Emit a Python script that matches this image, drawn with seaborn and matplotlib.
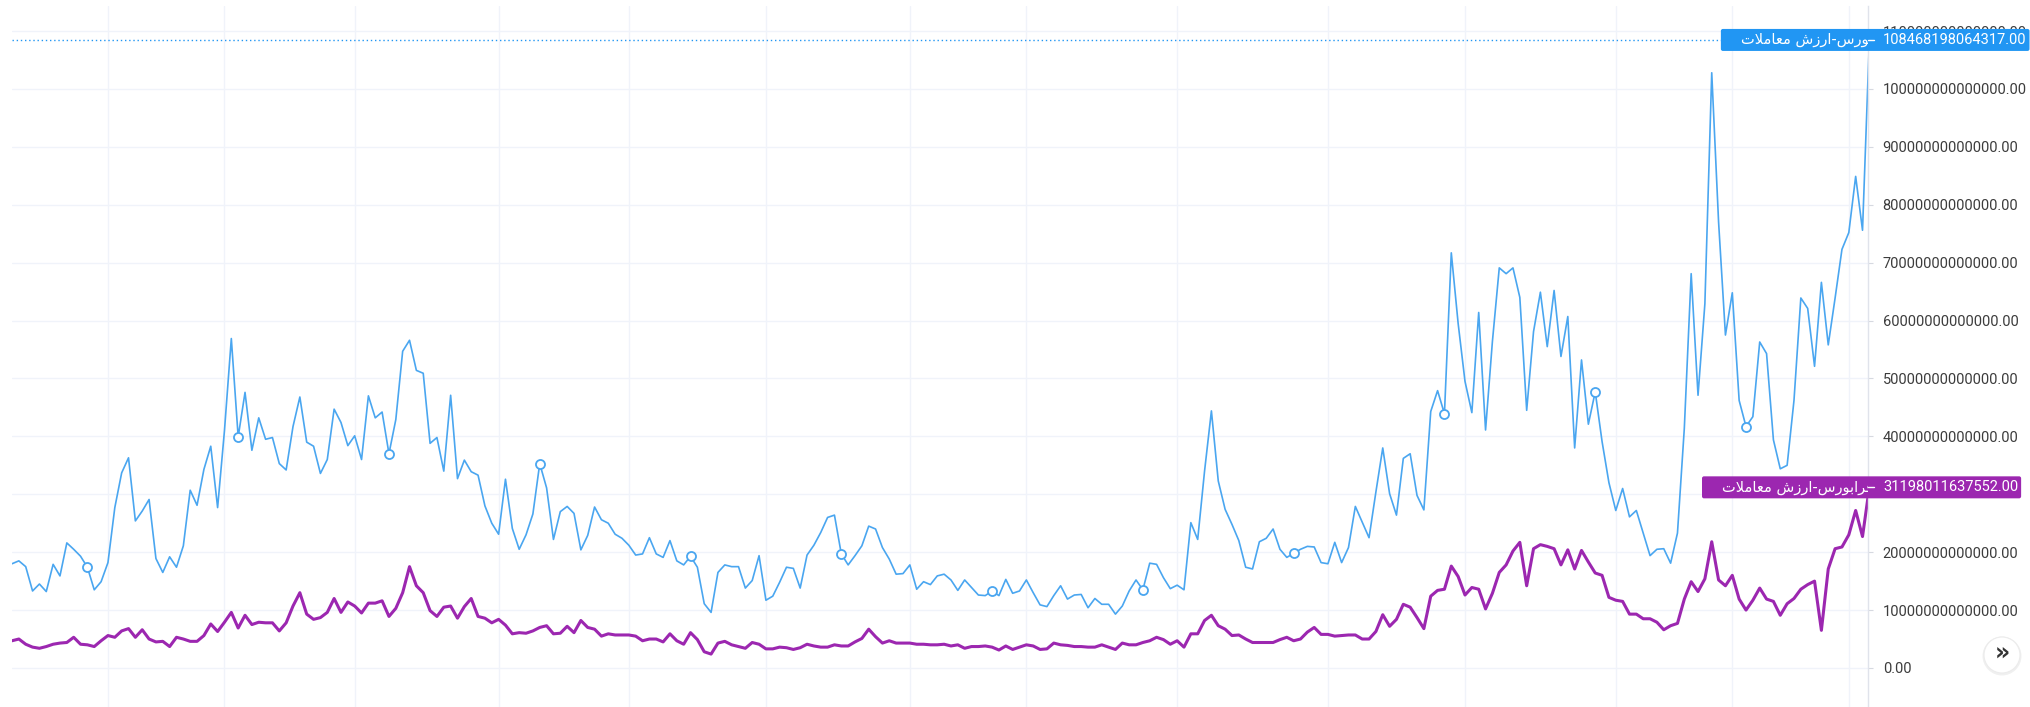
import numpy as np
import pandas as pd
import matplotlib
matplotlib.use('Agg')
import matplotlib.pyplot as plt
import seaborn as sns
from matplotlib.patches import FancyBboxPatch, Circle
from matplotlib.lines import Line2D
from matplotlib.transforms import IdentityTransform
from matplotlib.ticker import FuncFormatter

# daily trading value, in units of 1e13
bourse = [
    1.80, 1.85, 1.75, 1.33, 1.45, 1.32, 1.79, 1.59, 2.16, 2.05,
    1.93, 1.74, 1.35, 1.49, 1.82, 2.77, 3.37, 3.63, 2.54, 2.71,
    2.91, 1.89, 1.65, 1.92, 1.74, 2.11, 3.07, 2.81, 3.43, 3.83,
    2.77, 4.10, 5.69, 3.99, 4.76, 3.76, 4.32, 3.95, 3.98, 3.53,
    3.42, 4.17, 4.68, 3.90, 3.83, 3.36, 3.60, 4.47, 4.24, 3.84,
    4.01, 3.60, 4.70, 4.32, 4.42, 3.70, 4.29, 5.47, 5.66, 5.14,
    5.09, 3.88, 3.98, 3.40, 4.71, 3.27, 3.59, 3.39, 3.33, 2.80,
    2.50, 2.31, 3.26, 2.41, 2.05, 2.30, 2.66, 3.53, 3.11, 2.22,
    2.70, 2.79, 2.67, 2.04, 2.29, 2.78, 2.56, 2.50, 2.31, 2.24,
    2.12, 1.95, 1.97, 2.25, 1.97, 1.91, 2.20, 1.85, 1.78, 1.93,
    1.74, 1.11, 0.96, 1.65, 1.78, 1.75, 1.75, 1.38, 1.51, 1.94,
    1.17, 1.24, 1.48, 1.74, 1.72, 1.38, 1.95, 2.12, 2.34, 2.60,
    2.64, 1.97, 1.78, 1.94, 2.11, 2.45, 2.40, 2.08, 1.88, 1.62,
    1.63, 1.78, 1.36, 1.49, 1.44, 1.59, 1.62, 1.52, 1.34, 1.52,
    1.39, 1.26, 1.25, 1.33, 1.25, 1.53, 1.29, 1.33, 1.52, 1.30,
    1.09, 1.06, 1.25, 1.42, 1.19, 1.26, 1.27, 1.04, 1.20, 1.10,
    1.10, 0.93, 1.07, 1.33, 1.52, 1.35, 1.81, 1.79, 1.56, 1.37,
    1.43, 1.35, 2.51, 2.22, 3.40, 4.44, 3.23, 2.74, 2.48, 2.20,
    1.74, 1.71, 2.18, 2.24, 2.40, 2.05, 1.91, 1.98, 2.05, 2.10,
    2.09, 1.82, 1.80, 2.17, 1.82, 2.08, 2.79, 2.52, 2.25, 3.04,
    3.80, 3.01, 2.64, 3.62, 3.70, 2.98, 2.73, 4.43, 4.79, 4.39,
    7.17, 5.95, 4.95, 4.41, 6.14, 4.11, 5.64, 6.91, 6.81, 6.91,
    6.40, 4.45, 5.81, 6.49, 5.55, 6.52, 5.38, 6.07, 3.80, 5.32,
    4.21, 4.77, 3.91, 3.20, 2.72, 3.10, 2.61, 2.72, 2.33, 1.94,
    2.05, 2.06, 1.81, 2.33, 4.14, 6.81, 4.71, 6.29, 10.28, 7.70,
    5.75, 6.48, 4.62, 4.17, 4.34, 5.63, 5.43, 3.94, 3.44, 3.50,
    4.62, 6.39, 6.21, 5.21, 6.66, 5.58, 6.39, 7.23, 7.52, 8.49,
    7.56,
]
farabourse = [
    0.47, 0.50, 0.41, 0.36, 0.34, 0.37, 0.41, 0.43, 0.44, 0.53,
    0.41, 0.40, 0.37, 0.47, 0.56, 0.53, 0.64, 0.68, 0.53, 0.66,
    0.50, 0.45, 0.46, 0.37, 0.53, 0.50, 0.46, 0.46, 0.56, 0.76,
    0.63, 0.79, 0.96, 0.69, 0.91, 0.75, 0.79, 0.78, 0.78, 0.64,
    0.78, 1.07, 1.30, 0.93, 0.84, 0.87, 0.96, 1.20, 0.96, 1.14,
    1.07, 0.95, 1.12, 1.12, 1.16, 0.89, 1.03, 1.30, 1.75, 1.42,
    1.30, 0.99, 0.89, 1.05, 1.07, 0.86, 1.06, 1.20, 0.89, 0.86,
    0.78, 0.84, 0.74, 0.59, 0.61, 0.60, 0.64, 0.70, 0.73, 0.59,
    0.60, 0.72, 0.61, 0.82, 0.70, 0.67, 0.55, 0.59, 0.57, 0.57,
    0.57, 0.55, 0.47, 0.50, 0.50, 0.45, 0.59, 0.47, 0.41, 0.61,
    0.49, 0.28, 0.24, 0.43, 0.46, 0.40, 0.37, 0.34, 0.44, 0.41,
    0.33, 0.33, 0.36, 0.35, 0.32, 0.35, 0.41, 0.38, 0.36, 0.36,
    0.40, 0.38, 0.38, 0.45, 0.51, 0.67, 0.54, 0.43, 0.47, 0.43,
    0.43, 0.43, 0.41, 0.41, 0.40, 0.40, 0.41, 0.38, 0.40, 0.34,
    0.37, 0.37, 0.38, 0.36, 0.31, 0.38, 0.32, 0.36, 0.40, 0.38,
    0.32, 0.33, 0.43, 0.40, 0.39, 0.37, 0.37, 0.36, 0.36, 0.40,
    0.36, 0.32, 0.43, 0.40, 0.40, 0.44, 0.47, 0.53, 0.49, 0.41,
    0.47, 0.36, 0.59, 0.59, 0.82, 0.91, 0.73, 0.67, 0.56, 0.57,
    0.50, 0.44, 0.44, 0.44, 0.44, 0.49, 0.53, 0.47, 0.50, 0.62,
    0.70, 0.58, 0.58, 0.55, 0.56, 0.57, 0.57, 0.50, 0.50, 0.63,
    0.92, 0.72, 0.84, 1.10, 1.05, 0.87, 0.68, 1.24, 1.34, 1.36,
    1.76, 1.58, 1.26, 1.39, 1.36, 1.02, 1.29, 1.65, 1.78, 2.02,
    2.17, 1.42, 2.06, 2.13, 2.10, 2.06, 1.78, 2.04, 1.71, 2.03,
    1.83, 1.64, 1.60, 1.22, 1.17, 1.15, 0.93, 0.93, 0.85, 0.85,
    0.79, 0.66, 0.73, 0.77, 1.19, 1.49, 1.32, 1.54, 2.18, 1.52,
    1.42, 1.60, 1.19, 1.00, 1.17, 1.38, 1.19, 1.15, 0.91, 1.11,
    1.20, 1.36, 1.44, 1.50, 0.65, 1.71, 2.06, 2.09, 2.30, 2.72,
    2.27,
]
# last values shown on the price scale
bourse_last = 108468198064317
farabourse_last = 31198011637552

series_names = ['بورس-ارزش معاملات', 'فرابورس-ارزش معاملات']
month_starts = [14, 31, 50, 71, 90, 110, 131, 148, 170, 192, 212, 234, 251, 268]
y_ticks = [i * 10**13 for i in range(12)]
hidden_tick = 3 * 10**13  # sits under the purple last-value label

BLUE_LINE = '#4aa6f0'
BLUE = '#2196f3'
PURPLE = '#9c27b0'

# minimal Arabic shaping (matplotlib has no shaper / bidi)
FORMS = {
    'ب': '\uFE8F\uFE90\uFE91\uFE92', 'س': '\uFEB1\uFEB2\uFEB3\uFEB4',
    'ش': '\uFEB5\uFEB6\uFEB7\uFEB8', 'م': '\uFEE1\uFEE2\uFEE3\uFEE4',
    'ع': '\uFEC9\uFECA\uFECB\uFECC', 'ت': '\uFE95\uFE96\uFE97\uFE98',
    'ف': '\uFED1\uFED2\uFED3\uFED4', 'ل': '\uFEDD\uFEDE\uFEDF\uFEE0',
    'و': '\uFEED\uFEEE', 'ر': '\uFEAD\uFEAE', 'ز': '\uFEAF\uFEB0',
    'ا': '\uFE8D\uFE8E', '\uFEFB': '\uFEFB\uFEFC',
}


def shape(s):
    s = s.replace('لا', '\uFEFB')
    out = []
    for i, ch in enumerate(s):
        f = FORMS.get(ch)
        if f is None:
            out.append(ch)
            continue
        prev = s[i - 1] if i > 0 else ''
        nxt = s[i + 1] if i + 1 < len(s) else ''
        jp = len(FORMS.get(prev, '')) == 4
        jn = len(f) == 4 and nxt in FORMS
        out.append(f[(1 if jp else 0) + (2 if jn else 0)])
    return ''.join(out)[::-1]


df = pd.DataFrame({
    'day': np.arange(len(bourse) + 1),
    'bourse': np.append(np.array(bourse) * 1e13, bourse_last),
    'farabourse': np.append(np.array(farabourse) * 1e13, farabourse_last),
})

W, H = 2031, 707
sns.set_theme(style='white')
plt.rcParams['font.family'] = ['Roboto', 'DejaVu Sans']

fig = plt.figure(figsize=(W / 100, H / 100), dpi=100)
ax = fig.add_axes([12 / W, 0, 1856 / W, 701 / H])

sns.lineplot(data=df, x='day', y='bourse', ax=ax, color=BLUE_LINE, linewidth=1.2,
             errorbar=None, marker='o', markevery=slice(11, None, 22), markersize=6.5,
             markerfacecolor='white', markeredgecolor=BLUE_LINE, markeredgewidth=1.3)
sns.lineplot(data=df, x='day', y='farabourse', ax=ax, color=PURPLE, linewidth=2.2,
             errorbar=None)

ax.axhline(bourse_last, color=BLUE, lw=1, ls=(0, (1, 2)), zorder=1)

ax.set_xlim(0, 270.8)
ax.set_ylim(-0.674e13, 11.433e13)
ax.set_xticks(month_starts)
ax.set_yticks(y_ticks)
ax.grid(True, color='#f0f3fa', lw=1)
ax.set_xlabel('')
ax.set_ylabel('')
ax.tick_params(axis='x', length=0, labelbottom=False)
ax.yaxis.tick_right()
ax.tick_params(axis='y', length=3.6, width=0.8, color='#d6d9e0', pad=7,
               labelsize=10.5, labelcolor='#3c3c3c')
ax.yaxis.set_major_formatter(
    FuncFormatter(lambda v, p: '' if abs(v - hidden_tick) < 1 else f'{v:.2f}'))
for side in ['top', 'left', 'bottom']:
    ax.spines[side].set_visible(False)
ax.spines['right'].set_color('#e0e3eb')
ax.spines['right'].set_linewidth(1)

# last value labels on the price scale
renderer = fig.canvas.get_renderer()
x_edge = ax.bbox.x1
for name, last, color in zip(series_names, [bourse_last, farabourse_last], [BLUE, PURPLE]):
    yp = ax.transData.transform((0, last))[1]
    val = ax.text(x_edge + 15, yp, f'{last:.2f}', transform=IdentityTransform(),
                  ha='left', va='center', color='white', fontsize=10.5,
                  zorder=12, clip_on=False)
    nm = ax.text(x_edge + 5, yp, shape(name), transform=IdentityTransform(),
                 ha='right', va='center', color='white', fontsize=10.5,
                 family=['DejaVu Sans'], zorder=12, clip_on=True)
    e_nm = nm.get_window_extent(renderer)
    e_val = val.get_window_extent(renderer)
    box = FancyBboxPatch((e_nm.x0 - 20, yp - 11), e_val.x1 + 3 - (e_nm.x0 - 20), 22,
                         boxstyle='round,pad=0,rounding_size=2', fc=color, ec='none',
                         transform=IdentityTransform(), zorder=11, clip_on=False)
    ax.add_artist(box)
    ax.add_artist(Line2D([x_edge, x_edge + 6], [yp, yp], color='white', lw=1,
                         transform=IdentityTransform(), zorder=12, clip_on=False))

# scroll-to-realtime button
ax.add_artist(Circle((2002, 51), 19.5, fc='#000000', alpha=0.06, ec='none',
                     transform=IdentityTransform(), zorder=12, clip_on=False))
ax.add_artist(Circle((2002, 52), 18, fc='white', ec='#ececec', lw=0.8,
                     transform=IdentityTransform(), zorder=13, clip_on=False))
ax.text(2002, 53, '»', transform=IdentityTransform(), ha='center', va='center',
        fontsize=17, color='#333333', fontweight='bold', family=['DejaVu Sans'],
        zorder=14, clip_on=False)

fig.savefig('out.png', dpi=100)
